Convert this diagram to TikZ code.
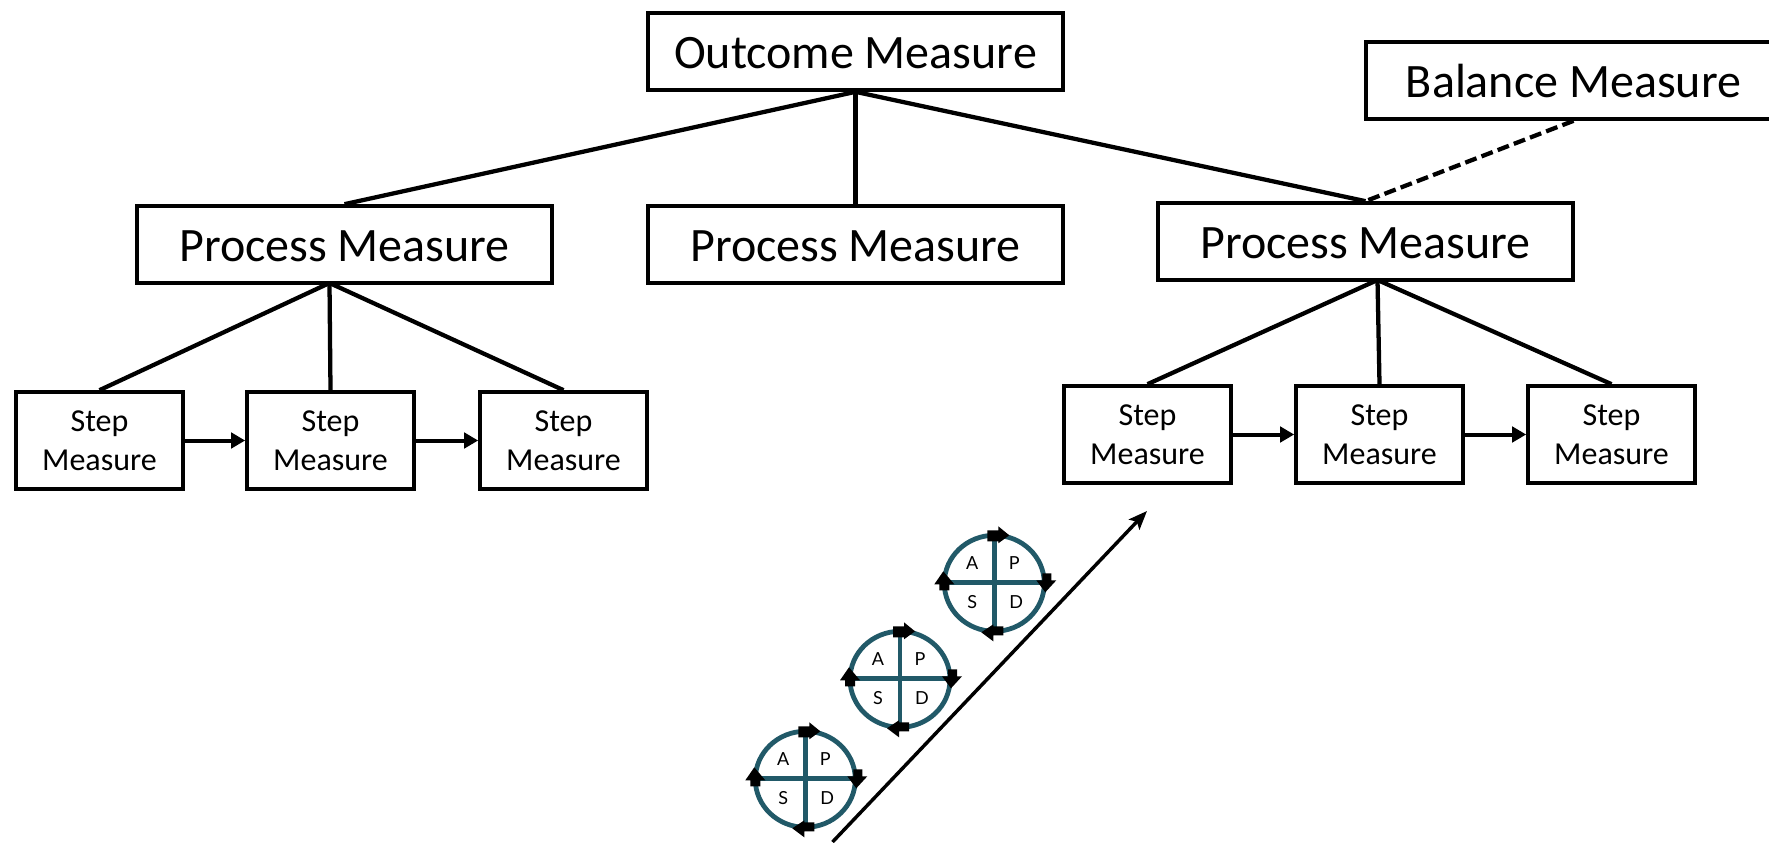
\documentclass[tikz,border=0pt]{standalone}
\usepackage{fontspec}
\setmainfont{Carlito}
\newfontfamily\pdsafont{Lato}
\usetikzlibrary{arrows.meta}
\definecolor{pdsateal}{RGB}{33,89,104}
\tikzset{
  bigbox/.style={draw,line width=2.75pt,minimum width=311.25pt,minimum height=57.75pt,inner sep=0pt,text height=26pt,text depth=0pt,font=\fontsize{36}{43}\selectfont},
  stepbox/.style={draw,line width=2.75pt,minimum width=125.25pt,minimum height=72.75pt,inner sep=0pt,align=center,font=\fontsize{24}{29}\selectfont},
  tree/.style={line width=3.2pt},
  flow/.style={line width=3pt,-{Triangle[length=10.5pt,width=11.5pt]}},
  pdsaletter/.style={inner sep=0pt,font=\pdsafont\fontsize{13.5}{16}\selectfont},
  pdsa/.pic={
    \draw [pdsateal,line width=3.6pt] (0,1) ellipse [x radius=50,y radius=48];
    \draw [pdsateal,line width=3.4pt] (0,-46) -- (0,48);
    \draw [pdsateal,line width=3.4pt] (-49,0) -- (49,0);
    \fill (-7,-52) -- (4,-52) -- (4,-56) -- (15,-47) -- (4,-39) -- (4,-41) -- (-7,-41) -- cycle;
    \fill (48,-9) -- (57,-9) -- (57,-2) -- (62,-2) -- (51,10) -- (42,-2) -- (48,-2) -- cycle;
    \fill (9,44) -- (9,53) -- (-1,53) -- (-1,59) -- (-13,50) -- (-1,42) -- (-1,44) -- cycle;
    \fill (-45,8) -- (-55,8) -- (-55,2) -- (-60,2) -- (-51,-11) -- (-40,2) -- (-45,2) -- cycle;
    \node (-a) [pdsaletter] at (-22,-19) {A};
    \node (-p) [pdsaletter] at (20,-19) {P};
    \node (-s) [pdsaletter] at (-22,20) {S};
    \node (-d) [pdsaletter] at (22,20) {D};
  }
}
\begin{document}
\begin{tikzpicture}[x=0.75pt,y=0.75pt,yscale=-1,xscale=1]
\path [use as bounding box,clip] (0,0) rectangle (1769,842);
% measures
\node (outcome) [bigbox] at (855.5,51.5) {Outcome Measure};
\node (balance) [bigbox] at (1573.5,80.5) {Balance Measure};
\node (processa) [bigbox] at (344.5,244.5) {Process Measure};
\node (processb) [bigbox] at (855.5,244.5) {Process Measure};
\node (processc) [bigbox] at (1365.5,241.5) {Process Measure};
\node (stepa) [stepbox] at (99.5,440.5) {Step\\Measure};
\node (stepb) [stepbox] at (330.5,440.5) {Step\\Measure};
\node (stepc) [stepbox] at (563.5,440.5) {Step\\Measure};
\node (stepd) [stepbox] at (1147.5,434.5) {Step\\Measure};
\node (stepe) [stepbox] at (1379.5,434.5) {Step\\Measure};
\node (stepf) [stepbox] at (1611.5,434.5) {Step\\Measure};
% joins under the process boxes
\coordinate (joina) at (329.5,283);
\coordinate (joinc) at (1377.5,280);
\draw [tree] (outcome.south) -- (processa.north);
\draw [tree] (outcome.south) -- (processb.north);
\draw [tree] (outcome.south) -- (processc.north);
\draw [tree,dash pattern={on 9pt off 4pt}] (balance.south) -- (processc.north);
\draw [tree] (joina) -- (stepa.north);
\draw [tree] (joina) -- (stepb.north);
\draw [tree] (joina) -- (stepc.north);
\draw [tree] (joinc) -- (stepd.north);
\draw [tree] (joinc) -- (stepe.north);
\draw [tree] (joinc) -- (stepf.north);
\draw [flow] (stepa) -- (stepb);
\draw [flow] (stepb) -- (stepc);
\draw [flow] (stepd) -- (stepe);
\draw [flow] (stepe) -- (stepf);
% ramp
\coordinate (rampstart) at (832.5,842);
\coordinate (rampend) at (1147,511);
\draw [line width=2.6pt,-{Stealth[length=14pt,width=11pt,inset=3pt]}] (rampstart) -- (rampend);
\pic [yscale=-1] (cyclea) at (805.3,778.3) {pdsa};
\pic [yscale=-1] (cycleb) at (900,678.3) {pdsa};
\pic [yscale=-1] (cyclec) at (994.3,582.3) {pdsa};
\end{tikzpicture}
\end{document}
